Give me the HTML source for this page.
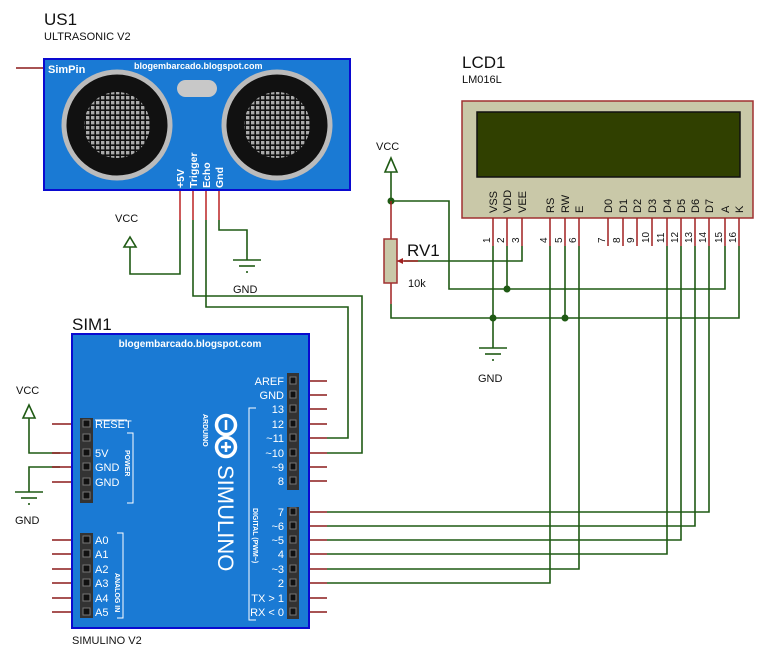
<!DOCTYPE html>
<html><head><meta charset="utf-8"><style>
html,body{margin:0;padding:0;background:#fff;}
svg{display:block;font-family:"Liberation Sans",Arial,sans-serif;}
</style></head><body>
<svg width="768" height="652" viewBox="0 0 768 652" xmlns="http://www.w3.org/2000/svg">
<defs>
<pattern id="grid" x="0" y="0" width="5" height="5" patternUnits="userSpaceOnUse">
<rect width="5" height="5" fill="#111"/><rect x="1" y="1" width="3.4" height="3.4" fill="#aaa"/>
</pattern>
<clipPath id="c1"><circle cx="117" cy="125" r="33"/></clipPath>
<clipPath id="c2"><circle cx="277" cy="125" r="33"/></clipPath>
</defs>
<g fill="none" stroke-width="1.5">
<line x1="16" y1="68" x2="44" y2="68" stroke="#8b1a1a"/>
<g stroke="#b22">
<line x1="180" y1="190" x2="180" y2="220"/><line x1="193" y1="190" x2="193" y2="220"/>
<line x1="206" y1="190" x2="206" y2="220"/><line x1="219" y1="190" x2="219" y2="220"/>
</g>
<g stroke="#1f5a14" stroke-width="1.6">
<polyline points="180,220 180,274 130,274 130,247"/>
<polygon points="130,237 124,247 136,247"/>
<polyline points="219,220 219,230 247,230 247,260"/>
<line x1="233" y1="260" x2="261" y2="260"/><line x1="239" y1="266" x2="255" y2="266"/><line x1="246" y1="272" x2="248" y2="272"/>
<polyline points="193,220 193,296 362,296 362,453 327,453"/>
<polyline points="206,220 206,307 348,307 348,438 327,438"/>
<polyline points="391,172 391,201 449,201 449,289 725,289 725,246"/>
<polygon points="391,158 385,172 397,172"/>
<polyline points="391,304 391,318 739,318 739,246"/>
<polyline points="493,246 493,348"/>
<line x1="479" y1="348" x2="507" y2="348"/><line x1="485" y1="354" x2="501" y2="354"/><line x1="492" y1="360" x2="494" y2="360"/>
<line x1="507" y1="246" x2="507" y2="289"/>
<polyline points="404,261 522,261 522,246"/>
<line x1="565" y1="246" x2="565" y2="318"/>
<polyline points="550,246 550,583 327,583"/>
<polyline points="579,246 579,569 327,569"/>
<polyline points="667,246 667,554 327,554"/>
<polyline points="681,246 681,540 327,540"/>
<polyline points="695,246 695,526 327,526"/>
<polyline points="709,246 709,512 327,512"/>
<polyline points="29,418 29,453 60,453"/>
<polygon points="29,405 23,418 35,418"/>
<polyline points="60,467 29,467 29,492"/>
<line x1="15" y1="492" x2="43" y2="492"/><line x1="21" y1="498" x2="37" y2="498"/><line x1="28" y1="504" x2="30" y2="504"/>
</g>
</g>
<g fill="#1f5a14">
<circle cx="391" cy="201" r="3.5"/><circle cx="507" cy="289" r="3.5"/><circle cx="493" cy="318" r="3.5"/><circle cx="565" cy="318" r="3.5"/>
</g>
<rect x="44" y="59" width="306" height="131" fill="#1a7ad4" stroke="#0a0ad0" stroke-width="2"/>
<circle cx="117" cy="125" r="53" fill="#111" stroke="#bbb" stroke-width="5"/>
<circle cx="277" cy="125" r="53" fill="#111" stroke="#bbb" stroke-width="5"/>
<rect x="60" y="60" width="300" height="130" fill="url(#grid)" clip-path="url(#c1)"/>
<rect x="200" y="60" width="200" height="130" fill="url(#grid)" clip-path="url(#c2)"/>
<rect x="177" y="80" width="40" height="17" rx="8.5" fill="#c8c8c8"/>
<text x="48" y="73" font-size="11" font-weight="bold" fill="#fff">SimPin</text>
<text x="134" y="69" font-size="9" font-weight="bold" fill="#fff">blogembarcado.blogspot.com</text>
<g font-size="10.5" font-weight="bold" fill="#fff">
<text transform="translate(184,188) rotate(-90)">+5V</text>
<text transform="translate(197,188) rotate(-90)">Trigger</text>
<text transform="translate(210,188) rotate(-90)">Echo</text>
<text transform="translate(223,188) rotate(-90)">Gnd</text>
</g>
<g fill="#111">
<text x="44" y="25" font-size="17">US1</text>
<text x="44" y="40" font-size="11">ULTRASONIC V2</text>
<text x="115" y="222" font-size="11">VCC</text>
<text x="233" y="293" font-size="11">GND</text>
<text x="462" y="68" font-size="17">LCD1</text>
<text x="462" y="83" font-size="11">LM016L</text>
</g>
<rect x="462" y="101" width="291" height="117" fill="#c9c8a8" stroke="#a03030" stroke-width="1.5"/>
<rect x="477" y="112" width="263" height="65" fill="#304000" stroke="#111" stroke-width="1.5"/>
<g stroke="#a02020" stroke-width="1.5">
<line x1="493" y1="218" x2="493" y2="246"/><line x1="507" y1="218" x2="507" y2="246"/><line x1="522" y1="218" x2="522" y2="246"/>
<line x1="550" y1="218" x2="550" y2="246"/><line x1="565" y1="218" x2="565" y2="246"/><line x1="579" y1="218" x2="579" y2="246"/>
<line x1="608" y1="218" x2="608" y2="246"/><line x1="623" y1="218" x2="623" y2="246"/><line x1="637" y1="218" x2="637" y2="246"/>
<line x1="652" y1="218" x2="652" y2="246"/><line x1="667" y1="218" x2="667" y2="246"/><line x1="681" y1="218" x2="681" y2="246"/>
<line x1="695" y1="218" x2="695" y2="246"/><line x1="709" y1="218" x2="709" y2="246"/><line x1="725" y1="218" x2="725" y2="246"/>
<line x1="739" y1="218" x2="739" y2="246"/>
<line x1="391" y1="201" x2="391" y2="239"/><line x1="391" y1="283" x2="391" y2="304"/>
<line x1="397" y1="261" x2="418" y2="261"/>
</g>
<polygon points="397,261 403,258 403,264" fill="#a02020"/>
<rect x="384" y="239" width="13" height="44" fill="#c9c8a8" stroke="#a03030" stroke-width="1.5"/>
<g fill="#111">
<text x="407" y="256" font-size="17">RV1</text>
<text x="408" y="287" font-size="11">10k</text>
<text x="376" y="150" font-size="11">VCC</text>
<text x="478" y="382" font-size="11">GND</text>
</g>
<g font-size="11" fill="#111">
<text transform="translate(497,213) rotate(-90)">VSS</text>
<text transform="translate(511,213) rotate(-90)">VDD</text>
<text transform="translate(526,213) rotate(-90)">VEE</text>
<text transform="translate(554,213) rotate(-90)">RS</text>
<text transform="translate(569,213) rotate(-90)">RW</text>
<text transform="translate(583,213) rotate(-90)">E</text>
<text transform="translate(612,213) rotate(-90)">D0</text>
<text transform="translate(627,213) rotate(-90)">D1</text>
<text transform="translate(641,213) rotate(-90)">D2</text>
<text transform="translate(656,213) rotate(-90)">D3</text>
<text transform="translate(671,213) rotate(-90)">D4</text>
<text transform="translate(685,213) rotate(-90)">D5</text>
<text transform="translate(699,213) rotate(-90)">D6</text>
<text transform="translate(713,213) rotate(-90)">D7</text>
<text transform="translate(729,213) rotate(-90)">A</text>
<text transform="translate(743,213) rotate(-90)">K</text>
</g>
<g font-size="10" fill="#111">
<text transform="translate(490,243) rotate(-90)">1</text><text transform="translate(504,243) rotate(-90)">2</text><text transform="translate(519,243) rotate(-90)">3</text>
<text transform="translate(547,243) rotate(-90)">4</text><text transform="translate(562,243) rotate(-90)">5</text><text transform="translate(576,243) rotate(-90)">6</text>
<text transform="translate(605,243) rotate(-90)">7</text><text transform="translate(620,243) rotate(-90)">8</text><text transform="translate(634,243) rotate(-90)">9</text>
<text transform="translate(649,243) rotate(-90)">10</text><text transform="translate(664,243) rotate(-90)">11</text><text transform="translate(678,243) rotate(-90)">12</text>
<text transform="translate(692,243) rotate(-90)">13</text><text transform="translate(706,243) rotate(-90)">14</text><text transform="translate(722,243) rotate(-90)">15</text>
<text transform="translate(736,243) rotate(-90)">16</text>
</g>
<g fill="#111">
<text x="72" y="330" font-size="17">SIM1</text>
<text x="72" y="644" font-size="11">SIMULINO V2</text>
<text x="16" y="394" font-size="11">VCC</text>
<text x="15" y="524" font-size="11">GND</text>
</g>
<g stroke="#8b1a1a" stroke-width="1.5">
<line x1="300" y1="381" x2="327" y2="381"/><line x1="300" y1="395" x2="327" y2="395"/><line x1="300" y1="409" x2="327" y2="409"/>
<line x1="300" y1="424" x2="327" y2="424"/><line x1="300" y1="438" x2="327" y2="438"/><line x1="300" y1="453" x2="327" y2="453"/>
<line x1="300" y1="467" x2="327" y2="467"/><line x1="300" y1="481" x2="327" y2="481"/>
<line x1="300" y1="512" x2="327" y2="512"/><line x1="300" y1="526" x2="327" y2="526"/><line x1="300" y1="540" x2="327" y2="540"/>
<line x1="300" y1="554" x2="327" y2="554"/><line x1="300" y1="569" x2="327" y2="569"/><line x1="300" y1="583" x2="327" y2="583"/>
<line x1="300" y1="598" x2="327" y2="598"/><line x1="300" y1="612" x2="327" y2="612"/>
<line x1="52" y1="424" x2="80" y2="424"/><line x1="52" y1="453" x2="80" y2="453"/><line x1="52" y1="467" x2="80" y2="467"/><line x1="52" y1="482" x2="80" y2="482"/>
<line x1="52" y1="540" x2="80" y2="540"/><line x1="52" y1="554" x2="80" y2="554"/><line x1="52" y1="569" x2="80" y2="569"/>
<line x1="52" y1="583" x2="80" y2="583"/><line x1="52" y1="598" x2="80" y2="598"/><line x1="52" y1="612" x2="80" y2="612"/>
</g>
<rect x="72" y="334" width="237" height="294" fill="#1a7ad4" stroke="#0a0ad0" stroke-width="2"/>
<text x="190" y="347" font-size="10" font-weight="bold" fill="#fff" text-anchor="middle">blogembarcado.blogspot.com</text>
<rect x="287" y="373" width="12" height="117" fill="#333"/>
<rect x="287" y="507" width="12" height="112" fill="#333"/>
<rect x="80" y="418" width="13" height="85" fill="#333"/>
<rect x="80" y="533" width="13" height="85" fill="#333"/>
<g fill="#111" stroke="#777" stroke-width="1">
<rect x="290" y="377" width="6" height="7"/><rect x="290" y="391" width="6" height="7"/><rect x="290" y="405" width="6" height="7"/>
<rect x="290" y="420" width="6" height="7"/><rect x="290" y="434" width="6" height="7"/><rect x="290" y="449" width="6" height="7"/>
<rect x="290" y="463" width="6" height="7"/><rect x="290" y="477" width="6" height="7"/>
<rect x="290" y="508" width="6" height="7"/><rect x="290" y="522" width="6" height="7"/><rect x="290" y="536" width="6" height="7"/>
<rect x="290" y="550" width="6" height="7"/><rect x="290" y="565" width="6" height="7"/><rect x="290" y="579" width="6" height="7"/>
<rect x="290" y="594" width="6" height="7"/><rect x="290" y="608" width="6" height="7"/>
<rect x="83" y="420" width="7" height="7"/><rect x="83" y="434" width="7" height="7"/><rect x="83" y="449" width="7" height="7"/>
<rect x="83" y="463" width="7" height="7"/><rect x="83" y="478" width="7" height="7"/><rect x="83" y="492" width="7" height="7"/>
<rect x="83" y="536" width="7" height="7"/><rect x="83" y="550" width="7" height="7"/><rect x="83" y="565" width="7" height="7"/>
<rect x="83" y="579" width="7" height="7"/><rect x="83" y="594" width="7" height="7"/><rect x="83" y="608" width="7" height="7"/>
</g>
<g font-size="11" fill="#fff" text-anchor="end">
<text x="284" y="385">AREF</text><text x="284" y="399">GND</text><text x="284" y="413">13</text><text x="284" y="428">12</text>
<text x="284" y="442">~11</text><text x="284" y="457">~10</text><text x="284" y="471">~9</text><text x="284" y="485">8</text>
<text x="284" y="516">7</text><text x="284" y="530">~6</text><text x="284" y="544">~5</text><text x="284" y="558">4</text>
<text x="284" y="573">~3</text><text x="284" y="587">2</text><text x="284" y="602">TX &gt; 1</text><text x="284" y="616">RX &lt; 0</text>
</g>
<g font-size="11" fill="#fff">
<text x="95" y="428">RESET</text><text x="95" y="457">5V</text><text x="95" y="471">GND</text><text x="95" y="486">GND</text>
<text x="95" y="544">A0</text><text x="95" y="558">A1</text><text x="95" y="573">A2</text><text x="95" y="587">A3</text><text x="95" y="602">A4</text><text x="95" y="616">A5</text>
</g>
<line x1="95" y1="420" x2="127" y2="420" stroke="#fff" stroke-width="1"/>
<g stroke="#fff" stroke-width="1" fill="none">
<polyline points="127,433 133,433 133,503 127,503"/>
<polyline points="117,533 123,533 123,618 117,618"/>
<polyline points="256,408 249,408 249,620 256,620"/>
</g>
<g font-size="7" font-weight="bold" fill="#fff">
<text transform="translate(125,450) rotate(90)">POWER</text>
<text transform="translate(115,573) rotate(90)">ANALOG IN</text>
<text transform="translate(253,508) rotate(90)">DIGITAL (PWM~)</text>
<text transform="translate(203,414) rotate(90)">ARDUINO</text>
</g>
<circle cx="226" cy="425" r="9.5" fill="none" stroke="#fff" stroke-width="3.5"/>
<circle cx="226" cy="447" r="9.5" fill="none" stroke="#fff" stroke-width="3.5"/>
<line x1="226" y1="420" x2="226" y2="430" stroke="#fff" stroke-width="2.5"/>
<line x1="221" y1="447" x2="231" y2="447" stroke="#fff" stroke-width="2.5"/>
<line x1="226" y1="442" x2="226" y2="452" stroke="#fff" stroke-width="2.5"/>
<text transform="translate(218,465) rotate(90)" font-size="22" fill="#fff">SIMULINO</text>
</svg>
</body></html>
